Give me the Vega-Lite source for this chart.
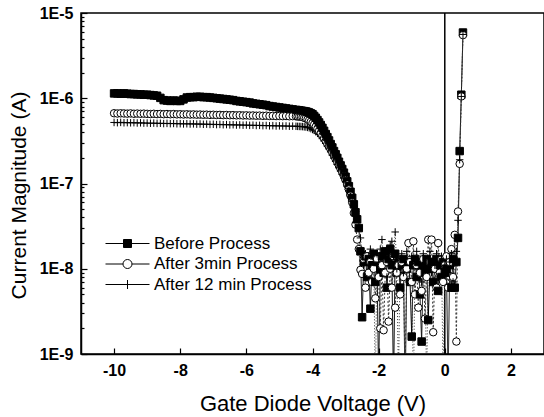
{
"$schema": "https://vega.github.io/schema/vega-lite/v6.json",
"width": 463, "height": 341,
"autosize": "none",
"padding": {"left": 81, "top": 13, "right": 0, "bottom": 63},
"background": "white",
"config": {
 "font": "Liberation Sans",
 "view": {"stroke": "black", "strokeWidth": 1.5},
 "axis": {"grid": false, "domainColor": "black", "domainWidth": 1.5, "tickColor": "black", "tickWidth": 1.2, "labelColor": "black", "labelFont": "Liberation Sans", "labelFontWeight": "bold", "labelFontSize": 16, "titleColor": "black", "titleFont": "Liberation Sans", "titleFontWeight": "normal", "labelOverlap": false, "labelFlush": false}
},
"data": {"values": [
{"v":-10.0,"a":1.14e-6,"b":6.67e-7,"c":5.20e-7},
{"v":-9.9,"a":1.14e-6,"b":6.62e-7,"c":5.17e-7},
{"v":-9.8,"a":1.13e-6,"b":6.66e-7,"c":5.21e-7},
{"v":-9.7,"a":1.14e-6,"b":6.63e-7,"c":5.16e-7},
{"v":-9.6,"a":1.13e-6,"b":6.60e-7,"c":5.18e-7},
{"v":-9.5,"a":1.12e-6,"b":6.64e-7,"c":5.15e-7},
{"v":-9.4,"a":1.12e-6,"b":6.58e-7,"c":5.17e-7},
{"v":-9.3,"a":1.11e-6,"b":6.61e-7,"c":5.13e-7},
{"v":-9.2,"a":1.11e-6,"b":6.57e-7,"c":5.15e-7},
{"v":-9.1,"a":1.10e-6,"b":6.60e-7,"c":5.11e-7},
{"v":-9.0,"a":1.10e-6,"b":6.56e-7,"c":5.12e-7},
{"v":-8.9,"a":1.09e-6,"b":6.53e-7,"c":5.09e-7},
{"v":-8.8,"a":1.08e-6,"b":6.57e-7,"c":5.11e-7},
{"v":-8.7,"a":1.07e-6,"b":6.52e-7,"c":5.07e-7},
{"v":-8.6,"a":1.01e-6,"b":6.55e-7,"c":5.09e-7},
{"v":-8.5,"a":9.5e-7,"b":6.50e-7,"c":5.05e-7},
{"v":-8.4,"a":9.4e-7,"b":6.53e-7,"c":5.07e-7},
{"v":-8.3,"a":9.3e-7,"b":6.49e-7,"c":5.04e-7},
{"v":-8.2,"a":9.4e-7,"b":6.52e-7,"c":5.06e-7},
{"v":-8.1,"a":9.3e-7,"b":6.47e-7,"c":5.02e-7},
{"v":-8.0,"a":9.3e-7,"b":6.49e-7,"c":5.03e-7},
{"v":-7.9,"a":9.7e-7,"b":6.45e-7,"c":5.00e-7},
{"v":-7.8,"a":1.02e-6,"b":6.48e-7,"c":5.02e-7},
{"v":-7.7,"a":1.03e-6,"b":6.44e-7,"c":4.99e-7},
{"v":-7.6,"a":1.03e-6,"b":6.46e-7,"c":5.01e-7},
{"v":-7.5,"a":1.04e-6,"b":6.42e-7,"c":4.97e-7},
{"v":-7.4,"a":1.04e-6,"b":6.44e-7,"c":4.99e-7},
{"v":-7.3,"a":1.03e-6,"b":6.40e-7,"c":4.95e-7},
{"v":-7.2,"a":1.03e-6,"b":6.42e-7,"c":4.97e-7},
{"v":-7.1,"a":1.02e-6,"b":6.38e-7,"c":4.93e-7},
{"v":-7.0,"a":1.01e-6,"b":6.40e-7,"c":4.95e-7},
{"v":-6.9,"a":1.00e-6,"b":6.36e-7,"c":4.91e-7},
{"v":-6.8,"a":9.9e-7,"b":6.38e-7,"c":4.93e-7},
{"v":-6.7,"a":9.8e-7,"b":6.34e-7,"c":4.89e-7},
{"v":-6.6,"a":9.7e-7,"b":6.36e-7,"c":4.91e-7},
{"v":-6.5,"a":9.6e-7,"b":6.32e-7,"c":4.87e-7},
{"v":-6.4,"a":9.5e-7,"b":6.34e-7,"c":4.89e-7},
{"v":-6.3,"a":9.3e-7,"b":6.30e-7,"c":4.85e-7},
{"v":-6.2,"a":9.2e-7,"b":6.32e-7,"c":4.87e-7},
{"v":-6.1,"a":9.1e-7,"b":6.28e-7,"c":4.83e-7},
{"v":-6.0,"a":9.0e-7,"b":6.30e-7,"c":4.85e-7},
{"v":-5.9,"a":8.9e-7,"b":6.26e-7,"c":4.81e-7},
{"v":-5.8,"a":8.7e-7,"b":6.28e-7,"c":4.83e-7},
{"v":-5.7,"a":8.6e-7,"b":6.24e-7,"c":4.79e-7},
{"v":-5.6,"a":8.5e-7,"b":6.26e-7,"c":4.81e-7},
{"v":-5.5,"a":8.4e-7,"b":6.22e-7,"c":4.77e-7},
{"v":-5.4,"a":8.3e-7,"b":6.24e-7,"c":4.79e-7},
{"v":-5.3,"a":8.1e-7,"b":6.20e-7,"c":4.75e-7},
{"v":-5.2,"a":8.0e-7,"b":6.22e-7,"c":4.77e-7},
{"v":-5.1,"a":7.9e-7,"b":6.18e-7,"c":4.73e-7},
{"v":-5.0,"a":7.8e-7,"b":6.20e-7,"c":4.75e-7},
{"v":-4.9,"a":7.7e-7,"b":6.17e-7,"c":4.72e-7},
{"v":-4.8,"a":7.6e-7,"b":6.19e-7,"c":4.73e-7},
{"v":-4.7,"a":7.5e-7,"b":6.15e-7,"c":4.70e-7},
{"v":-4.6,"a":7.4e-7,"b":6.17e-7,"c":4.71e-7},
{"v":-4.5,"a":7.3e-7,"b":6.14e-7,"c":4.69e-7},
{"v":-4.45,"a":7.25e-7,"b":6.12e-7,"c":4.68e-7},
{"v":-4.4,"a":7.2e-7,"b":6.10e-7,"c":4.67e-7},
{"v":-4.35,"a":7.15e-7,"b":6.05e-7,"c":4.66e-7},
{"v":-4.3,"a":7.1e-7,"b":6.00e-7,"c":4.65e-7},
{"v":-4.25,"a":7.05e-7,"b":5.90e-7,"c":4.62e-7},
{"v":-4.2,"a":7.0e-7,"b":5.80e-7,"c":4.60e-7},
{"v":-4.15,"a":6.9e-7,"b":5.65e-7,"c":4.55e-7},
{"v":-4.1,"a":6.8e-7,"b":5.50e-7,"c":4.50e-7},
{"v":-4.05,"a":6.65e-7,"b":5.30e-7,"c":4.40e-7},
{"v":-4.0,"a":6.5e-7,"b":5.10e-7,"c":4.30e-7},
{"v":-3.95,"a":6.2e-7,"b":4.90e-7,"c":4.20e-7},
{"v":-3.9,"a":5.9e-7,"b":4.65e-7,"c":4.05e-7},
{"v":-3.85,"a":5.55e-7,"b":4.40e-7,"c":3.90e-7},
{"v":-3.8,"a":5.2e-7,"b":4.15e-7,"c":3.75e-7},
{"v":-3.75,"a":4.85e-7,"b":3.90e-7,"c":3.55e-7},
{"v":-3.7,"a":4.5e-7,"b":3.65e-7,"c":3.35e-7},
{"v":-3.65,"a":4.15e-7,"b":3.40e-7,"c":3.15e-7},
{"v":-3.6,"a":3.8e-7,"b":3.15e-7,"c":2.95e-7},
{"v":-3.55,"a":3.5e-7,"b":2.90e-7,"c":2.75e-7},
{"v":-3.5,"a":3.2e-7,"b":2.70e-7,"c":2.55e-7},
{"v":-3.45,"a":2.9e-7,"b":2.50e-7,"c":2.35e-7},
{"v":-3.4,"a":2.65e-7,"b":2.30e-7,"c":2.15e-7},
{"v":-3.35,"a":2.4e-7,"b":2.10e-7,"c":1.98e-7},
{"v":-3.3,"a":2.2e-7,"b":1.93e-7,"c":1.82e-7},
{"v":-3.25,"a":2.0e-7,"b":1.77e-7,"c":1.67e-7},
{"v":-3.2,"a":1.8e-7,"b":1.62e-7,"c":1.53e-7},
{"v":-3.15,"a":1.63e-7,"b":1.48e-7,"c":1.40e-7},
{"v":-3.1,"a":1.48e-7,"b":1.35e-7,"c":1.28e-7},
{"v":-3.05,"a":1.34e-7,"b":1.22e-7,"c":1.16e-7},
{"v":-3.0,"a":1.2e-7,"b":1.10e-7,"c":1.05e-7},
{"v":-2.95,"a":1.06e-7,"b":9.7e-8,"c":9.3e-8},
{"v":-2.9,"a":9.3e-8,"b":8.5e-8,"c":8.2e-8},
{"v":-2.85,"a":8.0e-8,"b":7.2e-8,"c":7.1e-8},
{"v":-2.8,"a":6.8e-8,"b":6.0e-8,"c":6.2e-8},
{"v":-2.75,"a":5.7e-8,"b":4.5e-8,"c":5.4e-8},
{"v":-2.7,"a":4.6e-8,"b":3.3e-8,"c":4.7e-8},
{"v":-2.65,"a":3.8e-8,"b":2.2e-8,"c":3.8e-8},
{"v":-2.6,"a":3.0e-8,"b":1.7e-8,"c":3.0e-8},
{"v":-2.55,"a":1.6e-8,"b":9.7e-9,"c":2.3e-8},
{"v":-2.5,"a":2.7e-9,"b":8.7e-9,"c":1.6e-8},
{"v":-2.45,"a":1.2e-8,"b":1.3e-8,"c":1.1e-8},
{"v":-2.4,"a":1.4e-8,"b":6e-9,"c":1.5e-8},
{"v":-2.35,"a":8e-9,"b":1.4e-8,"c":9e-9},
{"v":-2.3,"a":1.3e-8,"b":9e-9,"c":1.4e-8},
{"v":-2.25,"a":3.4e-9,"b":1.2e-8,"c":1.7e-8},
{"v":-2.2,"a":1.1e-8,"b":7e-9,"c":1.0e-8},
{"v":-2.15,"a":1.5e-8,"b":1.0e-8,"c":1.3e-8},
{"v":-2.1,"a":7e-9,"b":4.5e-9,"c":4e-10},
{"v":-2.05,"a":1.2e-8,"b":1.3e-8,"c":1.5e-8},
{"v":-2.0,"a":5e-10,"b":8e-9,"c":1.2e-8},
{"v":-1.95,"a":1.0e-8,"b":2.0e-9,"c":1.7e-8},
{"v":-1.9,"a":1.4e-8,"b":1.1e-8,"c":2.2e-8},
{"v":-1.85,"a":9e-9,"b":1.9e-9,"c":1.3e-8},
{"v":-1.8,"a":1.6e-8,"b":9e-9,"c":1.6e-8},
{"v":-1.75,"a":6e-9,"b":1.2e-8,"c":8e-9},
{"v":-1.7,"a":1.3e-8,"b":2.4e-9,"c":1.5e-8},
{"v":-1.65,"a":1.7e-8,"b":1.0e-8,"c":1.9e-8},
{"v":-1.6,"a":1.1e-8,"b":6e-9,"c":2.1e-8},
{"v":-1.55,"a":4e-10,"b":1.4e-8,"c":1.4e-8},
{"v":-1.5,"a":1.5e-8,"b":3.5e-9,"c":2.7e-8},
{"v":-1.45,"a":9e-9,"b":9e-9,"c":1.0e-8},
{"v":-1.4,"a":1.2e-8,"b":1.1e-8,"c":5e-10},
{"v":-1.35,"a":6e-9,"b":5e-9,"c":1.3e-8},
{"v":-1.3,"a":1.1e-8,"b":1.2e-8,"c":1.5e-8},
{"v":-1.25,"a":1.3e-8,"b":8e-9,"c":9e-9},
{"v":-1.2,"a":3e-10,"b":6e-10,"c":1.2e-8},
{"v":-1.15,"a":1.0e-8,"b":1.0e-8,"c":1.6e-8},
{"v":-1.1,"a":1.2e-8,"b":2.0e-8,"c":7e-9},
{"v":-1.05,"a":7e-9,"b":1.2e-8,"c":1.1e-8},
{"v":-1.0,"a":1.6e-9,"b":7e-9,"c":1.4e-8},
{"v":-0.95,"a":1.1e-8,"b":2.1e-8,"c":3e-10},
{"v":-0.9,"a":1.3e-8,"b":5e-9,"c":1.2e-8},
{"v":-0.85,"a":8e-9,"b":1.1e-8,"c":1.6e-8},
{"v":-0.8,"a":1.2e-8,"b":3.5e-9,"c":1.0e-8},
{"v":-0.75,"a":5e-9,"b":9e-9,"c":1.3e-8},
{"v":-0.7,"a":1.4e-9,"b":5.5e-9,"c":7e-9},
{"v":-0.65,"a":1.1e-8,"b":1.3e-8,"c":1.5e-8},
{"v":-0.6,"a":9e-9,"b":2.6e-9,"c":1.1e-8},
{"v":-0.55,"a":1.3e-8,"b":8e-9,"c":4e-10},
{"v":-0.5,"a":2.5e-9,"b":2.2e-8,"c":1.2e-8},
{"v":-0.45,"a":1.0e-8,"b":1.2e-8,"c":1.6e-8},
{"v":-0.4,"a":1.2e-8,"b":2.2e-8,"c":9e-9},
{"v":-0.35,"a":7e-9,"b":1.8e-9,"c":1.3e-8},
{"v":-0.3,"a":1.0e-8,"b":1.0e-8,"c":1.1e-8},
{"v":-0.25,"a":1.3e-8,"b":6e-9,"c":1.5e-8},
{"v":-0.2,"a":5.5e-9,"b":2.0e-8,"c":8e-9},
{"v":-0.15,"a":1.1e-8,"b":9e-9,"c":1.2e-8},
{"v":-0.1,"a":8e-9,"b":1.3e-8,"c":1.4e-8},
{"v":-0.05,"a":1.2e-8,"b":7e-9,"c":5e-10},
{"v":0.0,"a":9e-9,"b":1.1e-8,"c":1.1e-8},
{"v":0.05,"a":1.0e-8,"b":1.4e-8,"c":1.3e-8},
{"v":0.1,"a":5e-10,"b":6e-9,"c":9e-9},
{"v":0.15,"a":1.1e-8,"b":1.2e-8,"c":1.2e-8},
{"v":0.2,"a":6e-9,"b":1.7e-8,"c":1.5e-8},
{"v":0.25,"a":1.3e-8,"b":8e-9,"c":7e-9},
{"v":0.3,"a":6e-9,"b":2.5e-8,"c":1.2e-8},
{"v":0.35,"a":1.2e-8,"b":1.4e-9,"c":1.6e-8},
{"v":0.4,"a":2.3e-8,"b":4.7e-8,"c":3.7e-8},
{"v":0.45,"a":2.4e-7,"b":1.7e-7,"c":1.9e-7},
{"v":0.5,"a":1.1e-6,"b":1.05e-6,"c":1.05e-6},
{"v":0.55,"a":5.9e-6,"b":5.5e-6,"c":5.6e-6}
]},
"resolve": {"scale": {"shape": "independent", "fill": "independent"}},
"layer": [
 {
  "data": {"values": [{"v": 0}]},
  "mark": {"type": "rule", "color": "black", "strokeWidth": 1.5},
  "encoding": {"x": {"field": "v", "type": "quantitative"}}
 },
 {
  "transform": [{"fold": ["a", "b", "c"], "as": ["k", "I"]}],
  "mark": {"type": "line", "strokeWidth": 1, "clip": true},
  "encoding": {
   "x": {"field": "v", "type": "quantitative", "scale": {"domain": [-11, 3], "nice": false, "zero": false},
    "axis": {"values": [-10,-9,-8,-7,-6,-5,-4,-3,-2,-1,0,1,2], "labelExpr": "datum.value % 2 == 0 ? '' + datum.value : ''", "tickSize": {"condition": {"test": "datum.value % 2 == 0", "value": -6}, "value": -3}, "labelPadding": 14, "title": "Gate Diode Voltage (V)", "titleFontSize": 22, "titleY": 56, "titleBaseline": "alphabetic"}},
   "y": {"field": "I", "type": "quantitative", "scale": {"type": "log", "domain": [1e-9, 1e-5], "nice": false},
    "axis": {"values": [1e-9,2e-9,3e-9,4e-9,5e-9,6e-9,7e-9,8e-9,9e-9,1e-8,2e-8,3e-8,4e-8,5e-8,6e-8,7e-8,8e-8,9e-8,1e-7,2e-7,3e-7,4e-7,5e-7,6e-7,7e-7,8e-7,9e-7,1e-6,2e-6,3e-6,4e-6,5e-6,6e-6,7e-6,8e-6,9e-6,1e-5],
     "labelExpr": "abs(log(datum.value)/LN10 - round(log(datum.value)/LN10)) < 0.001 ? '1E' + round(log(datum.value)/LN10) : ''",
     "tickSize": {"condition": {"test": "abs(log(datum.value)/LN10 - round(log(datum.value)/LN10)) < 0.001", "value": -6}, "value": -3},
     "labelPadding": 14, "title": "Current Magnitude (A)", "titleFontSize": 21, "titleX": -56, "titleY": 182, "titleBaseline": "alphabetic"}},
   "color": {"field": "k", "type": "nominal", "scale": {"domain": ["a", "b", "c"], "range": ["black", "#333333", "#333333"]}, "legend": null},
   "strokeDash": {"field": "k", "type": "nominal", "scale": {"domain": ["a", "b", "c"], "range": [[1, 0], [2, 2], [1, 2]]}, "legend": null}
  }
 },
 {
  "transform": [{"fold": ["a", "b", "c"], "as": ["k", "I"]}],
  "mark": {"type": "point", "filled": true, "stroke": "black", "strokeWidth": 1, "size": 56, "opacity": 1, "clip": true},
  "encoding": {
   "x": {"field": "v", "type": "quantitative"},
   "y": {"field": "I", "type": "quantitative"},
   "shape": {"field": "k", "type": "nominal", "scale": {"domain": ["a", "b", "c"], "range": ["square", "circle", "M-1,0H1M0,-1V1"]}, "legend": null},
   "fill": {"field": "k", "type": "nominal", "scale": {"domain": ["a", "b", "c"], "range": ["black", "white", "transparent"]}, "legend": null}
  }
 },
 {
  "data": {"values": [{"series": "Before Process"}, {"series": "After 3min Process"}, {"series": "After 12 min Process"}]},
  "mark": {"type": "point", "filled": true, "stroke": "black", "strokeWidth": 1, "opacity": 0},
  "encoding": {
   "shape": {"field": "series", "type": "nominal", "scale": {"domain": ["Before Process", "After 3min Process", "After 12 min Process"], "range": ["M-2.2,0H-0.4M0.4,0H2.2M-0.4,-0.4H0.4V0.4H-0.4Z", "M-2.2,0H-0.45M0.45,0H2.2M0.45,0A0.45,0.45 0 1 1 -0.45,0A0.45,0.45 0 1 1 0.45,0Z", "M-2.2,0H2.2M0,-0.45V0.45"]},
    "legend": {"title": null, "orient": "none", "legendX": 36, "legendY": 220, "symbolSize": 400, "labelFontSize": 17, "labelFont": "Liberation Sans", "labelColor": "black", "labelOffset": 16, "rowPadding": 1.5, "padding": 0, "symbolStrokeColor": "black", "symbolStrokeWidth": 1, "symbolOpacity": 1, "labelLimit": 400, "encode": {"symbols": {"update": {"opacity": {"value": 1}, "stroke": {"value": "black"}}}}}},
   "fill": {"field": "series", "type": "nominal", "scale": {"domain": ["Before Process", "After 3min Process", "After 12 min Process"], "range": ["black", "white", "transparent"]},
    "legend": {"title": null, "orient": "none", "legendX": 36, "legendY": 220, "symbolSize": 400, "labelFontSize": 17, "labelFont": "Liberation Sans", "labelColor": "black", "labelOffset": 16, "rowPadding": 1.5, "padding": 0, "symbolStrokeColor": "black", "symbolStrokeWidth": 1, "symbolOpacity": 1, "labelLimit": 400, "encode": {"symbols": {"update": {"opacity": {"value": 1}, "stroke": {"value": "black"}}}}}}
  }
 }
]
}
